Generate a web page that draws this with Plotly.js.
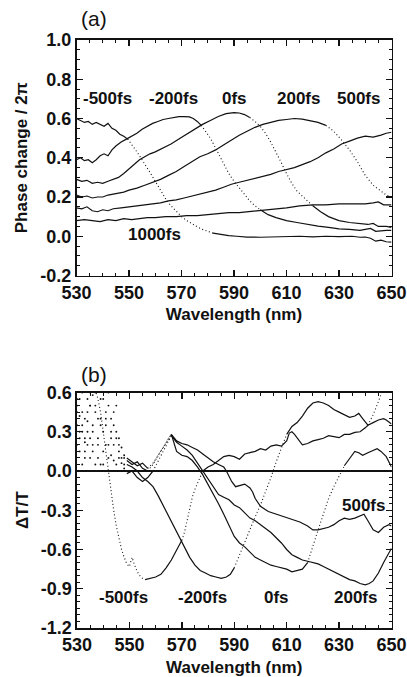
<!DOCTYPE html>
<html><head><meta charset="utf-8">
<script src="https://cdn.plot.ly/plotly-3.0.1.min.js"></script>
<style>html,body{margin:0;padding:0;background:#fff;} #chart{width:407px;height:677px;}</style>
</head><body><div id="chart"></div>
<script>
// ===== Panel (a): Phase change / 2π vs wavelength =====
const wlA_m500 = [530,531.5,533,534.5,536,537.5,539,540.5,542,543.5,545,546.5,548,549.5,551,552.5,554,556,558,560,562,564,566,568,570,572,574,576,578,580,582,585,588,591,595,600,605,610,615,620,625,630,635,638,640,642,644,646,648,650];
const phA_m500 = [0.60,0.59,0.58,0.585,0.57,0.58,0.57,0.56,0.575,0.55,0.54,0.52,0.51,0.495,0.47,0.44,0.41,0.37,0.325,0.28,0.235,0.19,0.155,0.125,0.10,0.08,0.062,0.048,0.035,0.025,0.016,0.008,0.003,0.0,-0.004,-0.005,-0.003,-0.004,0.0,-0.003,0.0,-0.002,0.0,-0.005,-0.004,-0.01,-0.025,-0.02,-0.028,-0.03];

const wlA_m200 = [530,531.5,533,534.5,536,537.5,539,540.5,542,543.5,545,547,549,551,553,555,557,559,561,563,565,567,569,571,573,574.5,576,577.5,579,580.5,582,583.5,585,586.5,588,590,592,594,596,598,600,603,606,610,614,618,622,626,630,634,638,640,642,644,646,648,650];
const phA_m200 = [0.39,0.40,0.385,0.39,0.375,0.39,0.41,0.42,0.41,0.44,0.46,0.48,0.495,0.51,0.525,0.545,0.56,0.575,0.585,0.595,0.60,0.605,0.61,0.61,0.608,0.60,0.585,0.565,0.54,0.51,0.475,0.435,0.395,0.355,0.32,0.28,0.245,0.21,0.18,0.155,0.135,0.11,0.095,0.08,0.07,0.06,0.052,0.045,0.038,0.035,0.03,0.035,0.04,0.025,0.028,0.03,0.03];

const wlA_0 = [530,532,534,536,538,540,542,544,546,548,550,552,554,556,558,560,563,566,569,572,575,578,581,584,587,590,592,594,596,598,600,602,604,606,608,610,612,614,617,620,623,626,630,634,638,641,643,645,648,650];
const phA_0 = [0.29,0.28,0.285,0.27,0.275,0.27,0.28,0.29,0.30,0.32,0.345,0.365,0.39,0.405,0.42,0.43,0.45,0.47,0.495,0.52,0.545,0.57,0.59,0.61,0.625,0.63,0.628,0.62,0.605,0.585,0.56,0.525,0.48,0.43,0.375,0.32,0.27,0.23,0.19,0.155,0.125,0.10,0.08,0.07,0.065,0.06,0.065,0.05,0.05,0.045];

const wlA_200 = [530,532,534,536,538,540,542,544,546,548,550,553,556,559,562,565,568,571,574,577,580,583,586,589,592,595,598,601,604,607,610,613,616,619,622,625,628,631,634,637,640,643,646,648,650];
const phA_200 = [0.21,0.20,0.205,0.195,0.20,0.20,0.21,0.215,0.22,0.225,0.235,0.245,0.26,0.275,0.29,0.31,0.33,0.355,0.38,0.405,0.42,0.44,0.465,0.49,0.515,0.535,0.555,0.57,0.58,0.59,0.595,0.60,0.597,0.59,0.58,0.565,0.535,0.49,0.44,0.38,0.31,0.26,0.23,0.21,0.20];

const wlA_500 = [530,532,534,536,538,540,542,544,547,550,553,556,559,562,565,568,571,574,577,580,583,586,589,592,595,598,601,604,607,610,613,616,619,622,625,628,631,634,637,640,643,646,648,650];
const phA_500 = [0.145,0.14,0.15,0.13,0.125,0.135,0.13,0.14,0.145,0.15,0.155,0.16,0.165,0.17,0.18,0.185,0.195,0.205,0.215,0.225,0.235,0.25,0.265,0.275,0.285,0.295,0.305,0.315,0.33,0.34,0.35,0.365,0.38,0.40,0.425,0.445,0.47,0.485,0.50,0.51,0.505,0.515,0.525,0.53];

const wlA_1000 = [530,533,536,539,542,545,548,551,554,557,560,564,568,572,576,580,584,588,592,596,600,605,610,615,620,625,630,635,640,643,645,647,650];
const phA_1000 = [0.08,0.085,0.08,0.075,0.085,0.08,0.09,0.085,0.09,0.095,0.095,0.10,0.10,0.105,0.105,0.11,0.115,0.12,0.12,0.125,0.13,0.14,0.145,0.155,0.16,0.16,0.165,0.165,0.165,0.17,0.175,0.16,0.16];

// ===== Panel (b): ΔT/T vs wavelength =====
const wlB_m500 = [530,531,532,533,534,535,536,537,538,539,540,541,542,543,544,545,546,547,548,549,550,551,552,553,554,555,556,558,560,562,564,566,568,570,571,572,573,574,575,576,577,578,580,582,584,586,588,590,592,594,596,598,600,602,604,606,608,610,611,612,613,614,616,618,620,622,624,626,628,630,632,634,636,638,640,641,643,645,647,648,650];
const dtB_m500 = [0.55,0.42,0.30,0.22,0.38,0.50,0.58,0.62,0.55,0.45,0.30,0.12,-0.02,-0.18,-0.30,-0.42,-0.52,-0.60,-0.66,-0.71,-0.73,-0.66,-0.72,-0.77,-0.80,-0.82,-0.83,-0.82,-0.81,-0.79,-0.74,-0.68,-0.60,-0.53,-0.47,-0.38,-0.29,-0.20,-0.14,-0.09,-0.04,0.0,0.03,0.05,0.08,0.11,0.12,0.11,0.09,0.13,0.14,0.15,0.17,0.16,0.19,0.20,0.19,0.23,0.29,0.30,0.28,0.25,0.20,0.21,0.23,0.24,0.25,0.27,0.26,0.255,0.28,0.28,0.295,0.30,0.33,0.35,0.37,0.39,0.40,0.39,0.36];

const wlB_m200 = [530,531,532,533,534,535,536,537,538,539,540,541,542,543,544,545,546,547,548,549,551,553,555,557,559,561,563,565,567,569,571,573,575,577,579,581,583,585,587,588.5,590,592,594,596,598,600,602,604,606,608,610,612,614,616,618,620,622,624,626,628,630,632,634,636,637.5,639,641,643,645,647];
const dtB_m200 = [0.35,0.15,0.45,0.25,0.55,0.10,0.30,0.50,0.20,0.40,0.05,0.35,0.60,0.25,0.45,0.30,0.15,0.10,0.12,0.05,0.03,0.0,-0.05,-0.08,-0.12,-0.19,-0.27,-0.35,-0.43,-0.51,-0.59,-0.66,-0.72,-0.76,-0.78,-0.80,-0.81,-0.82,-0.81,-0.79,-0.74,-0.64,-0.54,-0.44,-0.35,-0.26,-0.16,-0.05,0.07,0.18,0.28,0.34,0.37,0.42,0.48,0.52,0.53,0.52,0.50,0.47,0.45,0.43,0.41,0.42,0.44,0.40,0.35,0.43,0.53,0.64];

const wlB_0 = [530,531,532,533,534,535,536,537,538,539,540,541,542,543,544,545,546,547,548,549,551,553,555,557,559,561,563,565,566,567,568,570,572,574,576,578,580,582,584,586,588,590,592,594,596,598,600,602,604,606,608,610,612,614,616,618,620,622,624,626,628,630,632,634,636,637.5,639,641,643,644.5,646,648,650];
const dtB_0 = [0.50,0.25,0.05,0.40,0.30,0.60,0.20,0.45,0.10,0.35,0.55,0.40,0.20,0.30,0.08,0.25,0.10,0.18,0.10,0.08,0.05,0.07,0.02,0.0,0.05,0.12,0.18,0.25,0.28,0.21,0.15,0.12,0.11,0.08,0.03,-0.03,-0.10,-0.17,-0.25,-0.33,-0.42,-0.50,-0.55,-0.58,-0.62,-0.66,-0.68,-0.70,-0.72,-0.73,-0.74,-0.75,-0.77,-0.76,-0.75,-0.70,-0.57,-0.45,-0.33,-0.21,-0.12,-0.04,0.04,0.10,0.15,0.14,0.12,0.14,0.16,0.17,0.15,0.11,0.03];

const wlB_200 = [530,531,532,533,534,535,536,537,538,539,540,541,542,543,544,545,546,547,548,549,551,553,555,557,559,561,563,565,566,568,570,572,574,576,578,580,582,584,586,588,590,592,594,596,598,600,602,604,606,608,610,612,614,616,618,620,622,624,626,628,630,632,634,636,638,640,641.5,643,645,647,649,650];
const dtB_200 = [0.20,0.55,0.35,0.10,0.45,0.25,0.15,0.60,0.40,0.05,0.30,0.20,0.50,0.12,0.35,0.05,0.20,0.00,0.02,-0.02,0.0,-0.05,-0.08,-0.05,0.0,0.08,0.16,0.24,0.27,0.22,0.19,0.16,0.12,0.06,0.0,-0.06,-0.13,-0.18,-0.20,-0.22,-0.26,-0.28,-0.32,-0.36,-0.38,-0.41,-0.44,-0.47,-0.51,-0.55,-0.60,-0.64,-0.66,-0.68,-0.69,-0.70,-0.71,-0.73,-0.75,-0.77,-0.79,-0.81,-0.83,-0.84,-0.86,-0.87,-0.86,-0.84,-0.78,-0.70,-0.63,-0.59];

const wlB_500 = [530,531,532,533,534,535,536,537,538,539,540,541,542,543,544,545,546,547,548,549,551,553,555,557,559,561,563,565,566,568,570,572,574,576,578,580,582,584,586,587,589,590.5,592,594,596,597,598,600,603,606,609,612,615,618,620,622,624,626,628,630,632,634,636,638,639.5,641,643,645,647,649,650];
const dtB_500 = [0.45,0.30,0.60,0.15,0.20,0.50,0.35,0.05,0.25,0.55,0.15,0.45,0.10,0.40,0.20,0.50,0.25,0.06,0.05,0.10,0.07,0.04,0.06,0.02,0.06,0.12,0.19,0.25,0.28,0.23,0.21,0.20,0.18,0.16,0.13,0.10,0.07,0.05,0.03,0.0,-0.08,-0.12,-0.11,-0.10,-0.13,-0.16,-0.21,-0.27,-0.31,-0.33,-0.35,-0.37,-0.39,-0.42,-0.45,-0.45,-0.44,-0.43,-0.41,-0.38,-0.36,-0.37,-0.36,-0.34,-0.33,-0.38,-0.45,-0.47,-0.43,-0.41,-0.42];

// ===== Labels and ticks =====
const delayLabelsA = ['-500fs','-200fs','0fs','200fs','500fs','1000fs'];
const delayLabelsB = ['-500fs','-200fs','0fs','200fs','500fs'];
const xTickVals = [530,550,570,590,610,630,650];
const xTickText = ['530','550','570','590','610','630','650'];
const phTickVals = [-0.2,0,0.2,0.4,0.6,0.8,1.0];
const phTickText = ['-0.2','0.0','0.2','0.4','0.6','0.8','1.0'];
const dtTickVals = [-1.2,-0.9,-0.6,-0.3,0,0.3,0.6];
const dtTickText = ['-1.2','-0.9','-0.6','-0.3','0.0','0.3','0.6'];

// ===== Rendering helpers =====
const W = 407, H = 677;
function px(x){return x/W;}
function py(y){return 1 - y/H;}
const INK = '#111';
function segs(x, y, spec, xa, ya){
  const out = [];
  spec.forEach(function(s){
    const x0=s[0], x1=s[1], st=s[2];
    const sx=[], sy=[];
    for (let i=0;i<x.length;i++){ if (x[i]>=x0 && x[i]<=x1){ sx.push(x[i]); sy.push(y[i]); } }
    if (!sx.length) return;
    const t = {type:'scatter', x:sx, y:sy, xaxis:xa, yaxis:ya, hoverinfo:'skip', showlegend:false};
    if (st==='pts'){ t.mode='markers'; t.marker={size:1.9, color:INK}; }
    else if (st==='dot'){ t.mode='lines'; t.line={color:INK, width:1.1, dash:'1px,2.5px'}; }
    else { t.mode='lines'; t.line={color:INK, width:1.2}; }
    out.push(t);
  });
  return out;
}

let traces = [];
// panel (a)
traces = traces.concat(segs(wlA_m500, phA_m500, [[530,549.5,'s'],[549.5,582,'dot'],[582,650,'s']], 'x','y'));
traces = traces.concat(segs(wlA_m200, phA_m200, [[530,577.5,'s'],[577.5,600,'dot'],[600,650,'s']], 'x','y'));
traces = traces.concat(segs(wlA_0, phA_0, [[530,596,'s'],[596,620,'dot'],[620,650,'s']], 'x','y'));
traces = traces.concat(segs(wlA_200, phA_200, [[530,625,'s'],[625,650,'dot']], 'x','y'));
traces = traces.concat(segs(wlA_500, phA_500, [[530,650,'s']], 'x','y'));
traces = traces.concat(segs(wlA_1000, phA_1000, [[530,650,'s']], 'x','y'));
// panel (b)
traces = traces.concat(segs(wlB_m500, dtB_m500, [[530,537,'pts'],[537,556,'dot'],[556,570,'s'],[570,578,'dot'],[578,650,'s']], 'x2','y2'));
traces = traces.concat(segs(wlB_m200, dtB_m200, [[530,548,'pts'],[549,590,'s'],[590,610,'dot'],[610,641,'s'],[641,650,'dot']], 'x2','y2'));
traces = traces.concat(segs(wlB_0, dtB_0, [[530,548,'pts'],[549,557,'s'],[557,566,'dot'],[566,618,'s'],[618,632,'dot'],[632,650,'s']], 'x2','y2'));
traces = traces.concat(segs(wlB_200, dtB_200, [[530,548,'pts'],[549,559,'s'],[559,566,'dot'],[566,650,'s']], 'x2','y2'));
traces = traces.concat(segs(wlB_500, dtB_500, [[530,548,'pts'],[549,557,'s'],[557,566,'dot'],[566,650,'s']], 'x2','y2'));

const tickFont = {family:'Liberation Sans, Arial, sans-serif', size:18, color:INK, weight:'bold'};
const titleFont = {family:'Liberation Sans, Arial, sans-serif', size:17, color:INK, weight:'bold'};
function xAxis(domain, anchor, standoff){
  return {domain:domain, anchor:anchor, range:[530,650], automargin:false, ticklabeloverflow:'allow',
    tickmode:'array', tickvals:xTickVals, ticktext:xTickText, tickfont:tickFont,
    ticks:'inside', ticklen:6, tickwidth:1.4, tickcolor:INK,
    minor:{dtick:5, tick0:530, ticks:'inside', ticklen:3, tickwidth:1, tickcolor:INK},
    showline:true, linecolor:INK, linewidth:1.6, mirror:'allticks', showgrid:false, zeroline:false,
    title:{text:'Wavelength (nm)', font:titleFont, standoff:standoff}};
}
function yAxis(domain, anchor, range, vals, text, minorStep, title){
  return {domain:domain, anchor:anchor, range:range, automargin:false, ticklabeloverflow:'allow',
    tickmode:'array', tickvals:vals, ticktext:text, tickfont:tickFont,
    ticks:'inside', ticklen:6, tickwidth:1.4, tickcolor:INK,
    minor:{dtick:minorStep, tick0:range[0], ticks:'inside', ticklen:3, tickwidth:1, tickcolor:INK},
    showline:true, linecolor:INK, linewidth:1.6, mirror:'allticks', showgrid:false,
    title:{text:title, font:titleFont, standoff:8}};
}

const layout = {
  width:W, height:H, margin:{l:0,r:0,t:0,b:0}, showlegend:false,
  paper_bgcolor:'#fff', plot_bgcolor:'rgba(0,0,0,0)',
  font:{family:'Liberation Sans, Arial, sans-serif', color:INK},
  xaxis: xAxis([px(76.5), px(391.5)], 'y', 6),
  yaxis: Object.assign(yAxis([py(275.5), py(40)], 'x', [-0.2,1.0], phTickVals, phTickText, 0.05, 'Phase change / 2π'), {zeroline:false}),
  xaxis2: xAxis([px(77), px(391.5)], 'y2', 11),
  yaxis2: Object.assign(yAxis([py(628), py(392.5)], 'x2', [-1.2,0.6], dtTickVals, dtTickText, 0.05, 'ΔT/T'), {zeroline:true, zerolinecolor:INK, zerolinewidth:1.1}),
  annotations: []
};

const labFont = {family:'Liberation Sans, Arial, sans-serif', size:17, color:INK, weight:'bold'};
const posA = [[541.8,0.704],[567.1,0.704],[590.2,0.704],[614.6,0.704],[637.6,0.704],[559.7,0.01]];
delayLabelsA.forEach(function(t,i){
  layout.annotations.push({text:t, x:posA[i][0], y:posA[i][1], xref:'x', yref:'y', showarrow:false, font:labFont, xanchor:'center', yanchor:'middle'});
});
const posB = [[547.7,-0.968],[578.0,-0.968],[606.1,-0.968],[636.2,-0.968],[639.4,-0.262]];
delayLabelsB.forEach(function(t,i){
  layout.annotations.push({text:t, x:posB[i][0], y:posB[i][1], xref:'x2', yref:'y2', showarrow:false, font:labFont, xanchor:'center', yanchor:'middle'});
});
const panelFont = {family:'Liberation Sans, Arial, sans-serif', size:21, color:INK};
layout.annotations.push({text:'(a)', x:px(94), y:py(19), xref:'paper', yref:'paper', showarrow:false, font:panelFont, xanchor:'center', yanchor:'middle'});
layout.annotations.push({text:'(b)', x:px(94), y:py(374), xref:'paper', yref:'paper', showarrow:false, font:panelFont, xanchor:'center', yanchor:'middle'});

Plotly.newPlot('chart', traces, layout, {staticPlot:true, displayModeBar:false});
</script></body></html>
